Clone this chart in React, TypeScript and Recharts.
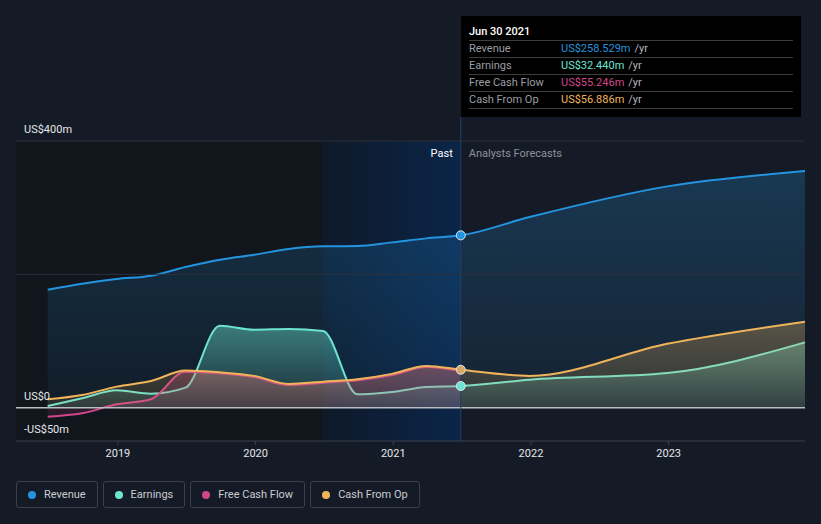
import React from "react";
import {
  ComposedChart,
  Area,
  XAxis,
  YAxis,
  ReferenceLine,
  ReferenceArea,
  ReferenceDot,
} from "recharts";

// time in fractional years (quarter ends in the past, year ends for forecasts)
const quarters = [2018.49, 2018.74, 2018.99, 2019.24, 2019.49, 2019.74, 2019.99, 2020.24, 2020.49, 2020.74, 2020.99, 2021.24, 2021.49];
const forecastYears = [2021.99, 2022.99, 2023.99];

// US$m
const revenuePast = [177, 186, 193, 198, 211, 222, 229.5, 238, 242, 242.5, 248, 254, 258.529];
const earningsPast = [2.5, 14, 26, 21, 30, 123, 117, 118, 115, 20, 23.5, 31, 32.44];
const fcfPast = [-13.5, -8.5, 5, 12.6, 54, 51.5, 46, 34, 37.5, 41, 49, 61, 55.246];
const cfoPast = [12.6, 19, 31.6, 40, 55.6, 53, 47.7, 35.6, 39, 42.7, 50.7, 62.7, 56.886];

const revenueForecast = [286, 332, 355];
const earningsForecast = [42, 52, 98];
const cfoForecast = [47.7, 95.8, 129];

const xTicks = [2019, 2020, 2021, 2022, 2023];
const yTicks = [-50, 0, 400];
const yTickLabels = ["-US$50m", "US$0", "US$400m"];

const pastStart = 2020.49;
const pastEnd = 2021.49;

const series = [
  { key: "revenue", name: "Revenue", color: "#2394df", top: 0.24, bottom: 0.06 },
  { key: "earnings", name: "Earnings", color: "#6ce5d0", top: 0.45, bottom: 0.08 },
  { key: "fcf", name: "Free Cash Flow", color: "#d0468a", top: 0.3, bottom: 0.1 },
  { key: "cfo", name: "Cash From Op", color: "#f0b45a", top: 0.3, bottom: 0.1 },
];

const tooltipRows = [
  { name: "Revenue", value: "US$258.529m", color: "#2394df" },
  { name: "Earnings", value: "US$32.440m", color: "#6ce5d0" },
  { name: "Free Cash Flow", value: "US$55.246m", color: "#d0468a" },
  { name: "Cash From Op", value: "US$56.886m", color: "#f0b45a" },
];

const data = [
  ...quarters.map((t, i) => ({
    t,
    revenue: revenuePast[i],
    earnings: earningsPast[i],
    fcf: fcfPast[i],
    cfo: cfoPast[i],
  })),
  ...forecastYears.map((t, i) => ({
    t,
    revenue: revenueForecast[i],
    earnings: earningsForecast[i],
    cfo: cfoForecast[i],
  })),
];

const font = "Roboto, 'Noto Sans', sans-serif";

const yLabel = (text: string) => (props: any) => {
  const vb = props.viewBox;
  return (
    <text x={vb.x + 8} y={vb.y - 8} fill="#e4e6ea" fontSize={11} fontFamily={font}>
      {text}
    </text>
  );
};

const PastLabel = (props: any) => {
  const vb = props.viewBox;
  return (
    <g fontFamily={font} fontSize={11}>
      <text x={vb.x - 8} y={vb.y + 40} textAnchor="end" fill="#ffffff">
        Past
      </text>
      <text x={vb.x + 8} y={vb.y + 40} textAnchor="start" fill="#8d929a">
        Analysts Forecasts
      </text>
    </g>
  );
};

const lineStroke: Record<number, string> = { [-50]: "none", 0: "#b9bdc4", 400: "#2c323d" };

export default function App() {
  return (
    <div
      style={{
        position: "absolute",
        left: 0,
        top: 0,
        width: 821,
        height: 524,
        background: "#151b26",
        fontFamily: font,
        overflow: "hidden",
      }}
    >
      <ComposedChart
        width={821}
        height={524}
        data={data}
        margin={{ top: 117, right: 16, bottom: 53, left: 16 }}
      >
        <defs>
          <linearGradient id="pastGrad" x1="0" y1="0" x2="1" y2="0">
            <stop offset="0%" stopColor="#0e1929" />
            <stop offset="100%" stopColor="#0b2548" />
          </linearGradient>
          {series.map((s) => (
            <linearGradient key={s.key} id={`fill-${s.key}`} x1="0" y1="0" x2="0" y2="1">
              <stop offset="0%" stopColor={s.color} stopOpacity={s.top} />
              <stop offset="100%" stopColor={s.color} stopOpacity={s.bottom} />
            </linearGradient>
          ))}
        </defs>
        <XAxis
          dataKey="t"
          type="number"
          domain={[2018.26, 2023.99]}
          ticks={xTicks}
          tickFormatter={(v) => String(v)}
          height={30}
          axisLine={{ stroke: "#3a404c" }}
          tickLine={{ stroke: "#3a404c" }}
          tickSize={4}
          tickMargin={4}
          tick={{ fill: "#e4e6ea", fontSize: 11, fontFamily: font }}
        />
        <YAxis type="number" domain={[-50, 436.1]} hide />
        <ReferenceArea x1={2018.26} x2={pastStart} y1={-50} y2={400} fill="#11151c" fillOpacity={1} stroke="none" />
        <ReferenceArea x1={pastStart} x2={pastEnd} y1={-50} y2={400} fill="url(#pastGrad)" fillOpacity={1} stroke="none" />
        <ReferenceLine y={200} stroke="#2c323d" />
        {series.map((s) => (
          <Area
            key={s.key}
            type="monotone"
            dataKey={s.key}
            stroke={s.color}
            strokeWidth={2}
            fill={`url(#fill-${s.key})`}
            fillOpacity={1}
            dot={false}
            activeDot={false}
            isAnimationActive={false}
          />
        ))}
        {yTicks.map((v, i) => (
          <ReferenceLine
            key={v}
            y={v}
            stroke={lineStroke[v]}
            strokeWidth={v === 0 ? 1.5 : 1}
            label={yLabel(yTickLabels[i])}
          />
        ))}
        <ReferenceLine x={pastEnd} stroke="#243e63" label={<PastLabel />} />
        <ReferenceDot x={pastEnd} y={revenuePast[12]} r={4.5} fill="#2394df" stroke="#dfe6ee" strokeWidth={1} />
        <ReferenceDot x={pastEnd} y={earningsPast[12]} r={4.5} fill="#6ce5d0" stroke="#dfe6ee" strokeWidth={1} />
        <ReferenceDot x={pastEnd} y={cfoPast[12]} r={4.5} fill="#d5a86a" stroke="#dfe6ee" strokeWidth={1} />
      </ComposedChart>

      <div
        style={{
          position: "absolute",
          left: 461,
          top: 16,
          width: 340,
          height: 101,
          background: "#000000",
          fontSize: 11,
        }}
      >
        <div
          style={{
            position: "absolute",
            left: 8,
            top: 8,
            height: 16,
            lineHeight: "16px",
            color: "#ffffff",
            fontWeight: 500,
          }}
        >
          Jun 30 2021
        </div>
        <div style={{ position: "absolute", left: 8, top: 24, width: 324, borderBottom: "1px solid #3c3c3c" }}>
          {tooltipRows.map((r) => (
            <div
              key={r.name}
              style={{
                borderTop: "1px solid #3c3c3c",
                height: 16,
                lineHeight: "16px",
                display: "flex",
              }}
            >
              <span style={{ width: 92, color: "#9a9ea5" }}>{r.name}</span>
              <span style={{ color: r.color }}>{r.value}</span>
              <span style={{ color: "#b4b7bc", marginLeft: 4 }}>/yr</span>
            </div>
          ))}
        </div>
      </div>

      <div
        style={{
          position: "absolute",
          left: 16,
          top: 481,
          display: "flex",
          gap: 5,
        }}
      >
        {series.map((s) => (
          <div
            key={s.key}
            style={{
              boxSizing: "border-box",
              height: 27,
              border: "1px solid #3a3f4a",
              borderRadius: 3,
              padding: "0 11px 0 11px",
              display: "flex",
              alignItems: "center",
              color: "#c9ccd1",
              fontSize: 11,
            }}
          >
            <span
              style={{
                width: 8,
                height: 8,
                borderRadius: 4,
                background: s.color,
                marginRight: 8,
              }}
            />
            {s.name}
          </div>
        ))}
      </div>
    </div>
  );
}
